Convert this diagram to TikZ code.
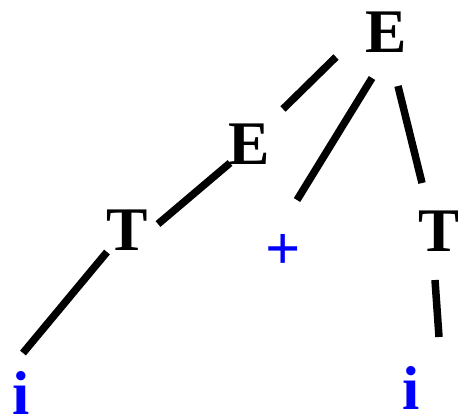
\documentclass[tikz,border=0pt]{standalone}
\usepackage{fontspec}
\setmainfont{Liberation Serif}
\begin{document}
\begin{tikzpicture}[x=1pt,y=1pt,
  lbl/.style={inner sep=0pt,font=\fontsize{62}{62}\selectfont\bfseries},
  term/.style={lbl,text={rgb,255:red,0;green,0;blue,255}},
  edge/.style={line width=7.5pt,black}]
\useasboundingbox (0,0) rectangle (458,-418);
\node[lbl] (Etop) at (386.5,-32) {E};
\node[lbl] (Emid) at (249,-144) {E};
\node[lbl] (Tl) at (127.5,-230) {T};
\node[term] (plus) at (283,-252) {+};
\node[lbl] (Tr) at (439,-231.5) {T};
\node[term] (il) at (21,-393) {i};
\node[term] (ir) at (411,-387.5) {i};
\draw[edge] ([shift={(-50.5,-25)}]Etop.center) -- ([shift={(34,35)}]Emid.center);
\draw[edge] ([shift={(-14.5,-46)}]Etop.center) -- ([shift={(14,52)}]plus.center);
\draw[edge] ([shift={(11.5,-54)}]Etop.center) -- ([shift={(-17,48.5)}]Tr.center);
\draw[edge] ([shift={(-19,-19)}]Emid.center) -- ([shift={(30.5,6)}]Tl.center);
\draw[edge] ([shift={(-20.5,-22)}]Tl.center) -- ([shift={(2,40)}]il.center);
\draw[edge] ([shift={(-4,-48.5)}]Tr.center) -- ([shift={(28,50.5)}]ir.center);
\end{tikzpicture}
\end{document}
